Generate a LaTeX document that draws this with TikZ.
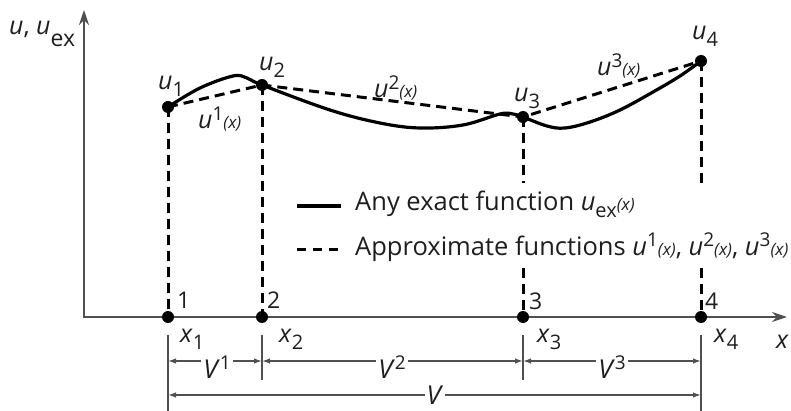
\documentclass[tikz,border=0pt]{standalone}
\usepackage{fontspec}
\setmainfont{Open Sans}
\usetikzlibrary{arrows.meta}
\definecolor{ink}{HTML}{1E1E1E}
\definecolor{axisgray}{HTML}{505050}
\newcommand{\vi}[1]{\textit{#1}}
\newcommand{\sbx}[1]{\raisebox{-7pt}{\fontsize{20}{20}\selectfont #1}}
\newcommand{\spx}[1]{\raisebox{8.5pt}{\fontsize{19}{19}\selectfont #1}}
\newcommand{\argx}{{\fontsize{17}{17}\selectfont\textit{(x)}}}
\tikzset{
  lbl/.style={font=\fontsize{25}{28}\selectfont, inner sep=0pt, anchor=base west, text=ink},
  legtext/.style={font=\fontsize{25.5}{28}\selectfont, inner sep=0pt, anchor=base west, text=ink},
  numlbl/.style={font=\fontsize{23}{26}\selectfont, inner sep=0pt, anchor=base west, text=ink},
  vlab/.style={font=\fontsize{26}{28}\selectfont, inner xsep=2pt, inner ysep=0pt, text depth=0pt, fill=white, text=ink},
  dot/.style={circle, fill=black, inner sep=0pt, minimum size=12pt},
  exact/.style={line width=3.2pt, black, line cap=round},
  approx/.style={line width=3pt, black, dash pattern=on 10pt off 6pt},
  axis/.style={line width=2pt, axisgray},
  dimline/.style={line width=1.5pt, axisgray},
  dimarrow/.style={dimline, {Latex[length=8pt,width=5.5pt]}-{Latex[length=8pt,width=5.5pt]}},
}
\begin{document}
\begin{tikzpicture}[x=1pt,y=-1pt]
\path[use as bounding box] (0,0) rectangle (791,411);

% axes
\coordinate (O) at (84,317);
\coordinate (Xend) at (787,317);
\coordinate (Yend) at (84,10);
\draw[axis, {Stealth[length=15pt,width=10pt]}-{Stealth[length=15pt,width=10pt]}] (Yend) -- (O) -- (Xend);

% nodal points
\coordinate (c1) at (168,107);
\coordinate (c2) at (262,85);
\coordinate (c3) at (523,117);
\coordinate (c4) at (701,61);
\coordinate (q1) at (168,317);
\coordinate (q2) at (262,317);
\coordinate (q3) at (523,317);
\coordinate (q4) at (701,317);

% exact function
\draw[exact] plot[smooth, tension=0.6] coordinates {
  (c1) (200,88) (233,76) (247,78) (c2) (330,110) (380,123) (420,128)
  (463,125) (500,114) (513,114) (c3) (547,126) (565,128) (590,122)
  (620,110) (653,92) (680,76) (c4)};

% approximate functions
\draw[approx] (c1) -- (c2) -- (c3) -- (c4);

% vertical dashed lines
\coordinate (g3a) at (523,183);
\coordinate (g3b) at (523,268);
\coordinate (g4a) at (701,183);
\coordinate (g4b) at (701,268);
\draw[approx] (c1) -- (q1);
\draw[approx] (c2) -- (q2);
\draw[approx] (c3) -- (g3a);
\draw[approx] (g3b) -- (q3);
\draw[approx] (c4) -- (g4a);
\draw[approx] (g4b) -- (q4);

% dots
\foreach \n in {1,2,3,4}{
  \node[dot] (u\n) at (c\n) {};
  \node[dot] (p\n) at (q\n) {};
}

% labels of points
\node[lbl] (l1) at (158,90) {\vi{u}\sbx{1}};
\node[lbl] (l2) at (259,71) {\vi{u}\sbx{2}};
\node[lbl] (l3) at (514,102) {\vi{u}\sbx{3}};
\node[lbl] (l4) at (692,40) {\vi{u}\sbx{4}};
\node[lbl] (a1) at (198,129) {\vi{u}\spx{1}\argx};
\node[lbl] (a2) at (374,98) {\vi{u}\spx{2}\argx};
\node[lbl] (a3) at (597,76) {\vi{u}\spx{3}\argx};

% axis labels
\node[lbl] (ylab) at (9,35) {\vi{u}, \vi{u}\raisebox{-12pt}{\fontsize{23}{23}\selectfont ex}};
\node[lbl] (xlab) at (776,348) {\vi{x}};

\node[numlbl] (n1) at (177,308) {1};
\node[numlbl] (n2) at (267,308) {2};
\node[numlbl] (n3) at (529,309) {3};
\node[numlbl] (n4) at (705,309) {4};

\node[lbl] (x1) at (180,342) {\vi{x}\sbx{1}};
\node[lbl] (x2) at (279,342) {\vi{x}\sbx{2}};
\node[lbl] (x3) at (537,342) {\vi{x}\sbx{3}};
\node[lbl] (x4) at (714,342) {\vi{x}\sbx{4}};

% legend
\coordinate (ls1) at (297,206);
\coordinate (ls2) at (341,206);
\coordinate (ld1) at (297,250);
\coordinate (ld2) at (341,250);
\draw[exact, line cap=butt] (ls1) -- (ls2);
\draw[approx, dash pattern=on 9pt off 7pt] (ld1) -- (ld2);
\node[legtext] (lt1) at (355,211) {Any exact function \vi{u}\sbx{ex}\argx};
\node[legtext] (lt2) at (355,255) {Approximate functions \vi{u}\spx{1}\argx, \vi{u}\spx{2}\argx, \vi{u}\spx{3}\argx};

% dimension extension lines
\coordinate (e1t) at (168,335); \coordinate (e1b) at (168,411);
\coordinate (e2t) at (262,335); \coordinate (e2b) at (262,380);
\coordinate (e3t) at (523,335); \coordinate (e3b) at (523,380);
\coordinate (e4t) at (701,335); \coordinate (e4b) at (701,411);
\draw[dimline] (e1t) -- (e1b);
\draw[dimline] (e2t) -- (e2b);
\draw[dimline] (e3t) -- (e3b);
\draw[dimline] (e4t) -- (e4b);

% dimension lines
\coordinate (m1) at (168,361);
\coordinate (m2) at (262,361);
\coordinate (m3) at (523,361);
\coordinate (m4) at (701,361);
\coordinate (w1) at (168,395);
\coordinate (w4) at (701,395);
\draw[dimarrow] (m1) -- (m2);
\draw[dimarrow] (m2) -- (m3);
\draw[dimarrow] (m3) -- (m4);
\draw[dimarrow] (w1) -- (w4);

\node[vlab] (V1) at (217,367) {\vi{V}\spx{1}};
\node[vlab] (V2) at (392,367) {\vi{V}\spx{2}};
\node[vlab] (V3) at (612,367) {\vi{V}\spx{3}};
\node[vlab] (V) at (435,395) {\vi{V}};
\end{tikzpicture}
\end{document}
